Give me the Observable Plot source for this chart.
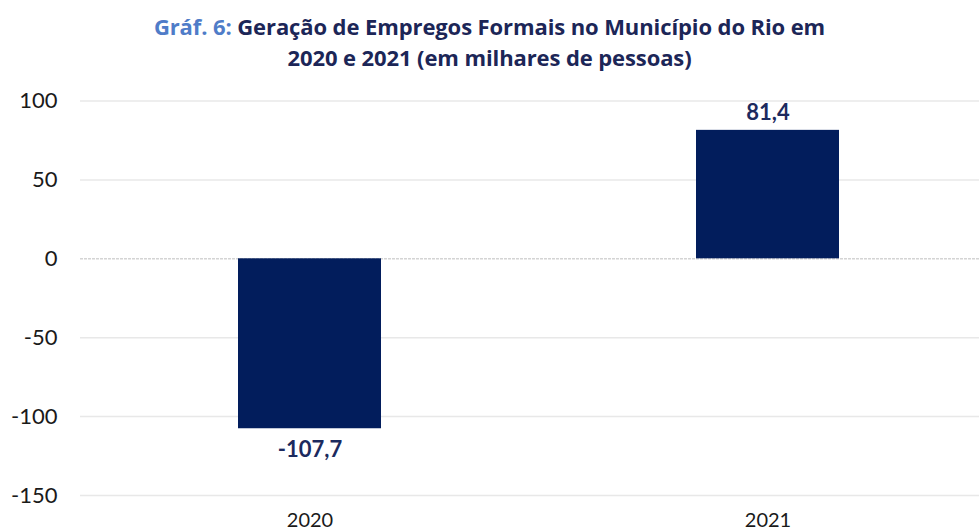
<!DOCTYPE html>
<html>
<head>
<meta charset="utf-8">
<script src="https://cdn.jsdelivr.net/npm/d3@7"></script>
<script src="https://cdn.jsdelivr.net/npm/@observablehq/plot@0.6"></script>
<style>
  html, body { margin: 0; padding: 0; background: #fff; overflow: hidden; }
  #title { height: 80px; box-sizing: border-box; padding-top: 11px; text-align: center;
    font-family: "Open Sans", Lato, sans-serif; font-weight: 700; font-size: 22px; line-height: 31px; color: #1c2657; letter-spacing: -0.1px; }
  #title .pre { color: #4f7cc8; }
</style>
</head>
<body>
<div id="title"><span class="pre">Gráf. 6:</span> Geração de Empregos Formais no Município do Rio em<br>2020 e 2021 (em milhares de pessoas)</div>
<div id="chart"></div>
<script>
const years = ["2020", "2021"];
const values = [-107.7, 81.4];
const yTicks = [100, 50, 0, -50, -100, -150];

const data = years.map((y, i) => ({year: y, value: values[i]}));
const fmt = v => v.toFixed(1).replace(".", ",");

const plot = Plot.plot({
  width: 979,
  height: 451,
  marginLeft: 80,
  marginRight: 0,
  marginTop: 20.5,
  marginBottom: 36,
  style: {fontFamily: "Lato, 'Open Sans', sans-serif", background: "#fff", overflow: "visible"},
  x: {type: "band", domain: years, range: [80, 996], paddingInner: 0.6878, paddingOuter: 0.3439, label: null},
  y: {domain: [-150, 100], label: null},
  marks: [
    Plot.ruleY(yTicks.filter(d => d !== 0), {stroke: "#e8e8e8", strokeWidth: 1.5}),
    Plot.ruleY([0], {stroke: "#d4d4d4", strokeWidth: 1.5, strokeDasharray: "3,1"}),
    Plot.barY(data, {x: "year", y: "value", fill: "#021d5c"}),
    Plot.text(data.filter(d => d.value >= 0), {x: "year", y: "value", text: d => fmt(d.value), lineAnchor: "bottom", dy: -10, fill: "#1c2a5e", fontSize: 22, fontWeight: "bold"}),
    Plot.text(data.filter(d => d.value < 0), {x: "year", y: "value", text: d => fmt(d.value), lineAnchor: "top", dy: 13, fill: "#1c2a5e", fontSize: 22, fontWeight: "bold"}),
    Plot.axisY({ticks: yTicks, tickSize: 0, tickPadding: 23, tickFormat: d => String(d), fontSize: 22, fill: "#1a1a1a", label: null}),
    Plot.axisX({tickSize: 0, tickPadding: 17, fontSize: 20, fill: "#1a1a1a", label: null})
  ]
});
document.getElementById("chart").appendChild(plot);
</script>
</body>
</html>
